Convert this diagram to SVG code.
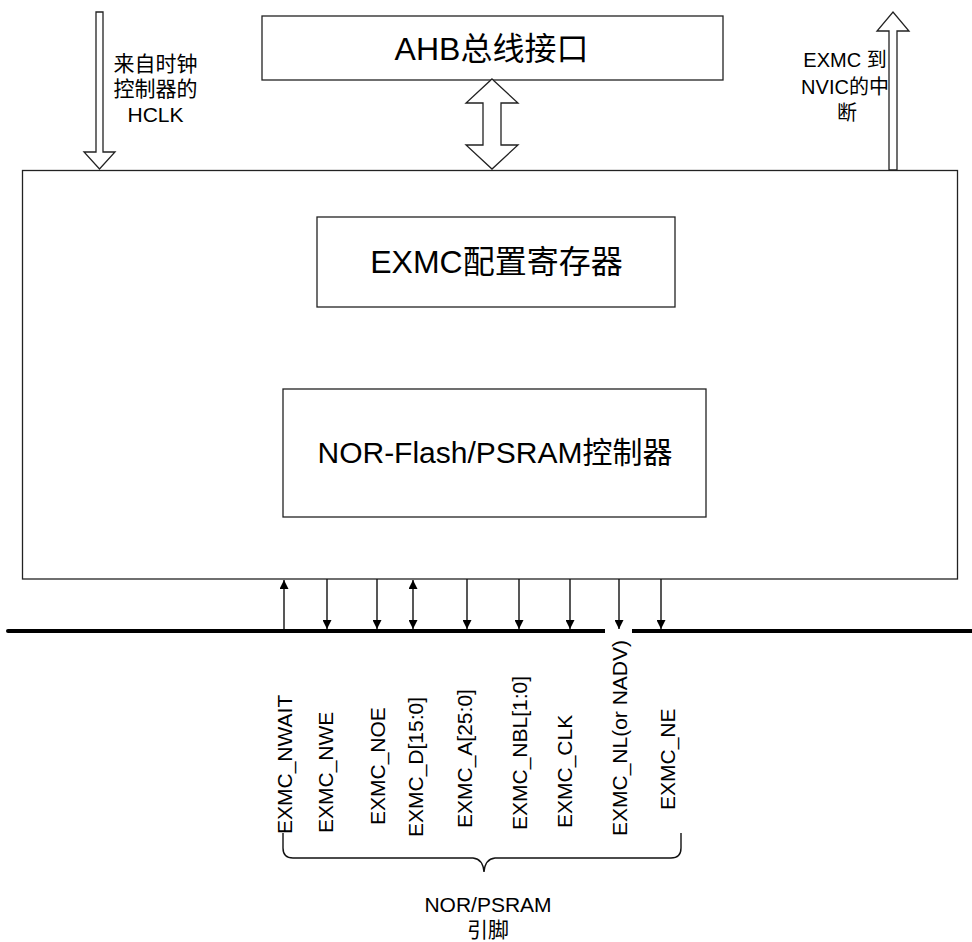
<svg xmlns="http://www.w3.org/2000/svg" width="972" height="942" viewBox="0 0 972 942">
<style>
text{font-family:"Liberation Sans","Noto Sans CJK SC",Arial,sans-serif;fill:#000}
.box{fill:#fff;stroke:#222;stroke-width:1.3}
.blk{fill:#fff;stroke:#222;stroke-width:1.3;stroke-linejoin:miter}
.sig{stroke:#111;stroke-width:1.4;fill:none}
.lbl{font-size:21px}
.big{font-size:32px}
</style>
<defs>
<marker id="ah" viewBox="0 0 10 10" refX="10" refY="5" markerWidth="9" markerHeight="9" markerUnits="userSpaceOnUse" orient="auto-start-reverse">
<path d="M0,0 L10,5 L0,10 Z" fill="#000"/>
</marker>
</defs>
<g id="main">
<rect class="box" x="22.5" y="170.5" width="935" height="408.5"/>
</g>
<g id="ahb">
<rect class="box" x="262" y="16" width="461" height="64"/>
<text class="big" x="491.5" y="60" text-anchor="middle">AHB总线接口</text>
</g>
<g id="config">
<rect class="box" x="317" y="217" width="358" height="90"/>
<text class="big" x="496.5" y="273" text-anchor="middle">EXMC配置寄存器</text>
</g>
<g id="norctrl">
<rect class="box" x="283" y="389" width="423" height="128"/>
<text x="495" y="463" text-anchor="middle" font-size="30">NOR-Flash/PSRAM控制器</text>
</g>
<g id="hclk">
<polygon class="blk" points="96,12 103,12 103,152 115,152 99.5,169 84,152 96,152"/>
<text class="lbl" x="155.5" y="70.5" text-anchor="middle">来自时钟</text>
<text class="lbl" x="155.5" y="96" text-anchor="middle">控制器的</text>
<text class="lbl" x="155.5" y="122" text-anchor="middle">HCLK</text>
</g>
<g id="nvic">
<polygon class="blk" points="889,170 889,31 877,31 893,12 909,31 897,31 897,170"/>
<text x="845" y="67" text-anchor="middle" font-size="20">EXMC 到</text>
<text x="845" y="94" text-anchor="middle" font-size="20">NVIC的中</text>
<text x="847" y="120" text-anchor="middle" font-size="20">断</text>
</g>
<g id="connectors">
<polygon class="blk" points="492,79 518,103 501,103 501,145 518,145 492,169 466,145 483,145 483,103 466,103"/>
<line x1="8" y1="631" x2="972" y2="631" stroke="#000" stroke-width="4" stroke-linecap="round"/>
<rect x="605" y="628" width="27" height="6" fill="#fff"/>
<line class="sig" x1="284" y1="629" x2="284" y2="580" marker-end="url(#ah)"/>
<line class="sig" x1="327" y1="579" x2="327" y2="629" marker-end="url(#ah)"/>
<line class="sig" x1="377" y1="579" x2="377" y2="629" marker-end="url(#ah)"/>
<line class="sig" x1="413" y1="580" x2="413" y2="629" marker-start="url(#ah)" marker-end="url(#ah)"/>
<line class="sig" x1="467" y1="579" x2="467" y2="629" marker-end="url(#ah)"/>
<line class="sig" x1="519" y1="579" x2="519" y2="629" marker-end="url(#ah)"/>
<line class="sig" x1="570" y1="579" x2="570" y2="629" marker-end="url(#ah)"/>
<line class="sig" x1="619" y1="579" x2="619" y2="629" marker-end="url(#ah)"/>
<line class="sig" x1="661" y1="579" x2="661" y2="629" marker-end="url(#ah)"/>
<path class="sig" d="M283,833 L283,848 Q283,858 293,858 L473,858 Q483,859 484,872 Q485,859 495,858 L671,858 Q681,858 681,848 L681,833"/>
</g>
<g id="pins">
<text class="lbl" transform="translate(292,834) rotate(-90)">EXMC_NWAIT</text>
<text class="lbl" transform="translate(333,833) rotate(-90)">EXMC_NWE</text>
<text class="lbl" transform="translate(385,825) rotate(-90)">EXMC_NOE</text>
<text class="lbl" transform="translate(423,837) rotate(-90)">EXMC_D[15:0]</text>
<text class="lbl" transform="translate(472,828) rotate(-90)">EXMC_A[25:0]</text>
<text class="lbl" transform="translate(527,830) rotate(-90)">EXMC_NBL[1:0]</text>
<text class="lbl" transform="translate(572,828) rotate(-90)">EXMC_CLK</text>
<text class="lbl" transform="translate(627,836) rotate(-90)">EXMC_NL(or NADV)</text>
<text class="lbl" transform="translate(675,810) rotate(-90)">EXMC_NE</text>
</g>
<g id="pinlabel">
<text class="lbl" x="488" y="912" text-anchor="middle">NOR/PSRAM</text>
<text class="lbl" x="488" y="937" text-anchor="middle">引脚</text>
</g>
</svg>
